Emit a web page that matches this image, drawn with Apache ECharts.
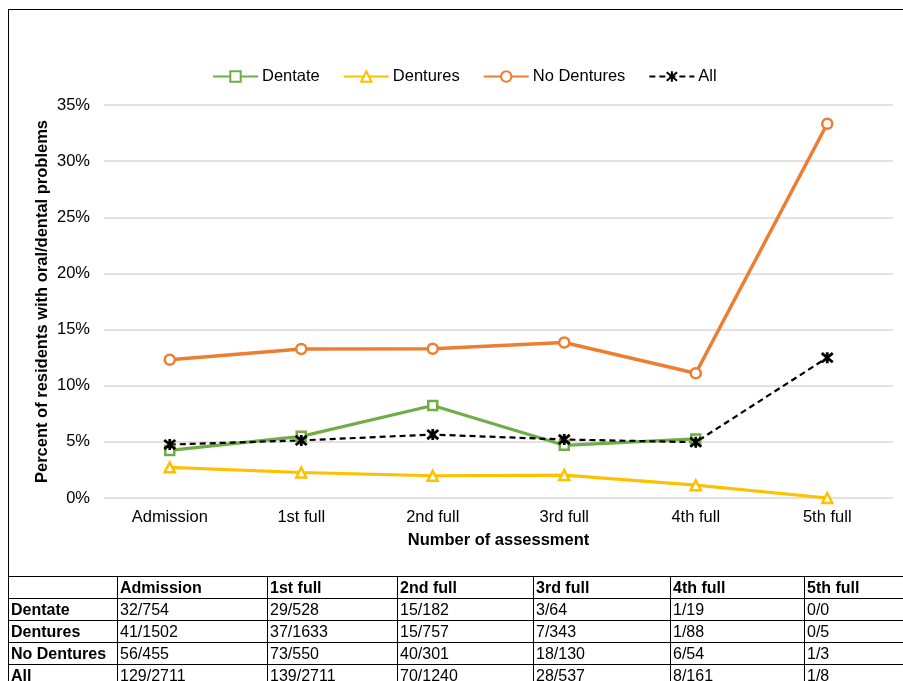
<!DOCTYPE html>
<html>
<head>
<meta charset="utf-8">
<script src="https://cdn.jsdelivr.net/npm/echarts@6/dist/echarts.min.js"></script>
<style>
  html, body { margin: 0; padding: 0; background: #fff; }
  body { width: 903px; height: 681px; position: relative; overflow: hidden; font-family: "Liberation Sans", Arial, sans-serif; }
  #frame { position: absolute; left: 8px; top: 9px; width: 1000px; height: 568px; border: 1px solid #000; box-sizing: border-box; }
  #chart { position: absolute; left: 0; top: 0; width: 903px; height: 681px; }
  #tbl { position: absolute; left: 8px; top: 576px; width: 936px; table-layout: fixed; border-collapse: collapse; font-size: 16px; color: #000; }
  #tbl tr { height: 22px; }
  #tbl td { border: 1px solid #000; padding: 0 2px; line-height: 20px; white-space: nowrap; overflow: hidden; }
  #tbl tr:first-child td, #tbl td:first-child { font-weight: bold; }
</style>
</head>
<body>
<div id="frame"></div>
<div id="chart"></div>
<table id="tbl"></table>
<script>
const categories = ['Admission', '1st full', '2nd full', '3rd full', '4th full', '5th full']

// percent with oral/dental problems
const dentate = [4.24, 5.49, 8.24, 4.69, 5.26, null]
const dentures = [2.73, 2.27, 1.98, 2.04, 1.14, 0]
const noDentures = [12.31, 13.27, 13.29, 13.85, 11.11, 33.33]
const all = [4.76, 5.13, 5.65, 5.21, 4.97, 12.5]

// counts shown in the table under the chart
const tableRows = ['Dentate', 'Dentures', 'No Dentures', 'All']
const dentateCounts = ['32/754', '29/528', '15/182', '3/64', '1/19', '0/0']
const denturesCounts = ['41/1502', '37/1633', '15/757', '7/343', '1/88', '0/5']
const noDenturesCounts = ['56/455', '73/550', '40/301', '18/130', '6/54', '1/3']
const allCounts = ['129/2711', '139/2711', '70/1240', '28/537', '8/161', '1/8']

const colWidths = [109, 150, 130, 136, 137, 134, 140]

// table
const tbl = document.getElementById('tbl')
const counts = [dentateCounts, denturesCounts, noDenturesCounts, allCounts]
let html = '<colgroup>' + colWidths.map((w) => `<col style="width:${w}px">`).join('') + '</colgroup>'
html += '<tr>' + [''].concat(categories).map((c) => `<td>${c}</td>`).join('') + '</tr>'
tableRows.forEach((r, k) => {
  html += '<tr><td>' + r + '</td>' + counts[k].map((v) => `<td>${v}</td>`).join('') + '</tr>'
})
tbl.innerHTML = html

const font = '"Liberation Sans", Arial, sans-serif'
const asterisk = 'path://M0,0L10,10M10,0L0,10M5,-1L5,11'
const fs = 16.5

const chart = echarts.init(document.getElementById('chart'))
chart.setOption({
  animation: false,
  textStyle: { fontFamily: font },
  legend: {
    top: 63,
    left: 207,
    itemWidth: 45,
    itemHeight: 13,
    itemGap: 23,
    textStyle: { fontSize: fs, color: '#000', fontFamily: font, padding: [0, 0, 0, -1] },
    data: ['Dentate', 'Dentures', 'No Dentures', 'All'],
  },
  grid: { left: 104, right: 10, top: 105, bottom: 183 },
  xAxis: {
    type: 'category',
    data: categories,
    boundaryGap: true,
    axisLine: { show: false },
    axisTick: { show: false },
    axisLabel: { fontSize: fs, color: '#000', margin: 11 },
    name: 'Number of assessment',
    nameLocation: 'middle',
    nameGap: 34,
    nameMoveOverlap: false,
    nameTextStyle: { fontSize: fs, fontWeight: 'bold', color: '#000' },
  },
  yAxis: {
    type: 'value',
    min: 0,
    max: 35,
    interval: 5,
    axisLine: { show: false },
    axisTick: { show: false },
    axisLabel: { fontSize: fs, color: '#000', formatter: '{value}%', margin: 14 },
    splitLine: { lineStyle: { color: '#d9d9d9', width: 1.5 } },
    name: 'Percent of residents with oral/dental problems',
    nameLocation: 'middle',
    nameGap: 53,
    nameMoveOverlap: false,
    nameTextStyle: { fontSize: fs, fontWeight: 'bold', color: '#000' },
  },
  series: [
    {
      name: 'Dentate', type: 'line', data: dentate,
      symbol: 'rect', symbolSize: 9,
      lineStyle: { color: '#70ad47', width: 3.2 },
      itemStyle: { color: '#fff', borderColor: '#70ad47', borderWidth: 2.5 },
    },
    {
      name: 'Dentures', type: 'line', data: dentures,
      symbol: 'triangle', symbolSize: 10,
      lineStyle: { color: '#ffc000', width: 3.2 },
      itemStyle: { color: '#fff', borderColor: '#ffc000', borderWidth: 2.5 },
    },
    {
      name: 'No Dentures', type: 'line', data: noDentures,
      symbol: 'circle', symbolSize: 10,
      lineStyle: { color: '#ed7d31', width: 3.5 },
      itemStyle: { color: '#fff', borderColor: '#ed7d31', borderWidth: 2.5 },
    },
    {
      name: 'All', type: 'line', data: all,
      symbol: asterisk, symbolSize: 11,
      lineStyle: { color: '#000', width: 2.2, type: [6, 4] },
      itemStyle: { color: '#000', borderColor: '#000', borderWidth: 2.8 },
    },
  ],
})
</script>
</body>
</html>
